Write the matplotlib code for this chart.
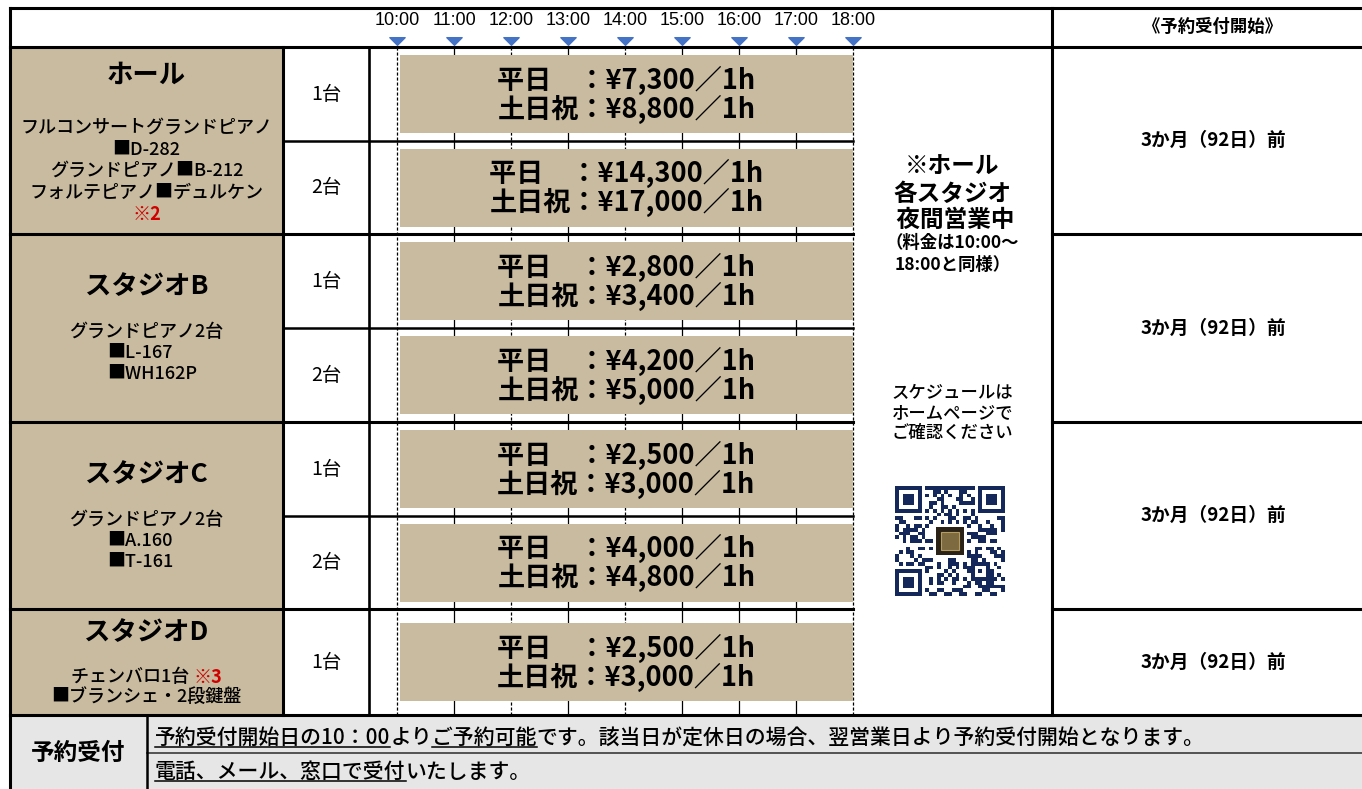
import numpy as np
import matplotlib
matplotlib.use('Agg')
import matplotlib.pyplot as plt
from matplotlib.path import Path
from matplotlib.patches import Rectangle
from matplotlib.colors import ListedColormap

# ---------------- data ----------------
hours = [10, 11, 12, 13, 14, 15, 16, 17, 18]
hour_labels = ['10:00', '11:00', '12:00', '13:00', '14:00', '15:00', '16:00', '17:00', '18:00']
open_hour = 10
close_hour = 18
dashed_hours = [10, 12, 14, 18]

room_names = ['ホール', 'スタジオB', 'スタジオC', 'スタジオD']
subrows_per_room = [2, 2, 2, 1]
piano_counts = ['1台', '2台', '1台', '2台', '1台', '2台', '1台']
weekday_price = [7300, 14300, 2800, 4200, 2500, 4000, 2500]
holiday_price = [8800, 17000, 3400, 5000, 3000, 4800, 3000]
booking_start = ['3か月（92日）前', '3か月（92日）前', '3か月（92日）前', '3か月（92日）前']

hall_details = ['フルコンサートグランドピアノ', '■D-282', 'グランドピアノ■B-212', 'フォルテピアノ■デュルケン']
hall_note = '※2'
studio_b_details = ['グランドピアノ2台', '■L-167', '■WH162P']
studio_c_details = ['グランドピアノ2台', '■A.160', '■T-161']
studio_d_line1 = 'チェンバロ1台'
studio_d_note = '※3'
studio_d_line2 = '■ブランシェ・2段鍵盤'

night_title = ['※ホール', '各スタジオ', ' 夜間営業中']
night_note = ['（料金は10:00～', '18:00と同様）']
schedule_note = ['スケジュールは', 'ホームページで', 'ご確認ください']
right_header = '《予約受付開始》'
footer_label = '予約受付'
footer_line1 = [('予約受付開始日の10：00', True), ('より', False), ('ご予約可能', True),
                ('です。該当日が定休日の場合、翌営業日より予約受付開始となります。', False)]
footer_line2 = [('電話、メール、窓口で受付', True), ('いたします。', False)]

# ---------------- style ----------------
TAN = '#C9BB9F'
GRAY = '#E6E6E6'
BLUE = '#4472C4'
RED = '#D00000'
NAVY = '#15285A'

plt.rcParams['font.family'] = ['Noto Sans CJK JP', 'DejaVu Sans']
time_font, time_size = ['Liberation Sans', 'DejaVu Sans'], 13

W, H = 1362, 789
fig = plt.figure(figsize=(W / 100, H / 100), dpi=100)
ax = fig.add_axes([0, 0, 1, 1])
ax.set_xlim(0, W)
ax.set_ylim(H, 0)
ax.axis('off')

# layout (pixel coordinates of the table grid)
X_L, X_NAME, X_CNT, X_TL_END, X_MID, X_R = 10, 283, 369, 853, 1052, W
Y_TOP, Y_HEAD, Y_BODY_END = 8, 47, 715
row_edges = [47, 141, 234, 328, 422, 516, 609, 715]
px_hour10, px_per_hour = 397, 57.0

# timeline axes: x in hours, y in pixels
axt = fig.add_axes([0, 0, 1, 1], zorder=2)
axt.set_xlim(open_hour - px_hour10 / px_per_hour, open_hour + (W - px_hour10) / px_per_hour)
axt.set_ylim(H, 0)
axt.axis('off')
axt.patch.set_alpha(0)

# backgrounds
ax.add_patch(Rectangle((X_L, Y_HEAD), X_NAME - X_L, Y_BODY_END - Y_HEAD, color=TAN, lw=0, zorder=0))
ax.add_patch(Rectangle((X_L, Y_BODY_END), W - X_L, H - Y_BODY_END, color=GRAY, lw=0, zorder=0))

LW = 2.2
def hl(y, x0, x1, lw=LW, color='black'):
    ax.plot([x0, x1], [y, y], color=color, lw=lw, solid_capstyle='projecting', zorder=3)

def vl(x, y0, y1, lw=LW, color='black'):
    ax.plot([x, x], [y0, y1], color=color, lw=lw, solid_capstyle='projecting', zorder=3)

hl(Y_TOP, X_L, W)
hl(Y_HEAD, X_L, W)
hl(Y_BODY_END, X_L, W)
room_bounds = np.cumsum([0] + subrows_per_room)
for k in room_bounds[1:-1]:
    y = row_edges[k]
    hl(y, X_L, X_TL_END)
    hl(y, X_MID, W)
for i in range(1, len(row_edges) - 1):
    if i not in room_bounds:
        hl(row_edges[i], X_NAME, X_TL_END, lw=1.8)
hl(753, 147, W, lw=1.2, color='#3a3a3a')
vl(X_L, Y_TOP, H)
vl(X_NAME, Y_HEAD, Y_BODY_END)
vl(X_CNT, Y_HEAD, Y_BODY_END, lw=1.9)
vl(X_MID, Y_TOP, Y_BODY_END)
vl(147, Y_BODY_END, H, lw=1.8)

# hour grid lines and markers
styles = [(0, (2.5, 1.5)) if h in dashed_hours else 'solid' for h in hours]
axt.vlines(hours, Y_HEAD, Y_BODY_END, colors='black', linestyles=styles, lw=0.9, zorder=1)
tri = Path([(-1, 0.5), (1, 0.5), (0, -0.5), (-1, 0.5)],
           [Path.MOVETO, Path.LINETO, Path.LINETO, Path.CLOSEPOLY])
axt.plot(hours, [41] * len(hours), ls='none', marker=tri, ms=11, color=BLUE, zorder=3)
for h, lab in zip(hours, hour_labels):
    axt.text(h, 20, lab, ha='center', va='center', fontsize=time_size, family=time_font)

# price bars
centers = [(row_edges[i] + row_edges[i + 1]) / 2 for i in range(len(row_edges) - 1)]
inset = 0.05
axt.barh(centers, close_hour - open_hour - inset, left=open_hour + inset, height=78,
         color=TAN, zorder=2)
xc = (open_hour + inset + close_hour) / 2
for yc, wd, hd in zip(centers, weekday_price, holiday_price):
    axt.text(xc, yc - 14, f'平日　：¥{wd:,}／1h', ha='center', va='center', fontsize=19.5,
             fontweight='bold', zorder=4)
    axt.text(xc, yc + 15, f'土日祝：¥{hd:,}／1h', ha='center', va='center', fontsize=19.5,
             fontweight='bold', zorder=4)

# piano counts
for yc, pc in zip(centers, piano_counts):
    ax.text((X_NAME + X_CNT) / 2, yc, pc, ha='center', va='center', fontsize=14, zorder=4)

fig.canvas.draw()
renderer = fig.canvas.get_renderer()


def segments(segs, x, y, ha='left', va='center', fontsize=13, ul_off=3, **common):
    widths = []
    for s, kw in segs:
        kw = {k: v for k, v in kw.items() if k != 'underline'}
        t = ax.text(0, 0, s, fontsize=fontsize, **common, **kw)
        widths.append(t.get_window_extent(renderer).width)
        t.remove()
    x0 = x - sum(widths) / 2 if ha == 'center' else x
    for (s, kw), w in zip(segs, widths):
        kw = dict(kw)
        ul = kw.pop('underline', False)
        ax.text(x0, y, s, ha='left', va=va, fontsize=fontsize, zorder=5, **common, **kw)
        if ul:
            ax.plot([x0, x0 + w], [y + ul_off, y + ul_off], color='black', lw=1.1, zorder=5)
        x0 += w


# room names and details
name_cx = (X_L + X_NAME) / 2
title_y = [75, 287, 475, 633]
for name, ty in zip(room_names, title_y):
    ax.text(name_cx, ty, name, ha='center', va='center', fontsize=19, fontweight='bold', zorder=4)
DET = 13
for i, line in enumerate(hall_details):
    ax.text(name_cx, 128 + 21.5 * i, line, ha='center', va='center', fontsize=DET,
            fontweight='medium', zorder=4)
ax.text(name_cx, 214, hall_note, ha='center', va='center', fontsize=DET, color=RED,
        fontweight='bold', zorder=4)
for details, y0 in [(studio_b_details, 332), (studio_c_details, 520)]:
    ax.text(name_cx, y0, details[0], ha='center', va='center', fontsize=DET, fontweight='medium', zorder=4)
    for j, line in enumerate(details[1:]):
        ax.text(107, y0 + 21 * (j + 1), line, ha='left', va='center', fontsize=DET,
                fontweight='medium', zorder=4)
segments([(studio_d_line1 + ' ', {'fontweight': 'medium'}),
          (studio_d_note, {'color': RED, 'fontweight': 'bold'})],
         name_cx, 677, ha='center', fontsize=DET)
ax.text(name_cx, 697, studio_d_line2, ha='center', va='center', fontsize=DET, fontweight='medium', zorder=4)

# middle column
mid_cx = (X_TL_END + X_MID) / 2
for i, line in enumerate(night_title):
    ax.text(mid_cx, 167 + 26.5 * i, line, ha='center', va='center', fontsize=17, fontweight='bold', zorder=4)
for i, line in enumerate(night_note):
    ax.text(mid_cx, 243 + 21.5 * i, line, ha='center', va='center', fontsize=12.5, fontweight='bold', zorder=4)
for i, line in enumerate(schedule_note):
    ax.text(mid_cx, 393 + 20 * i, line, ha='center', va='center', fontsize=12.5, fontweight='medium', zorder=4)

# QR-like code (deterministic pattern)
n = 29
qr = np.zeros((n, n), dtype=int)
for i in range(n):
    for j in range(n):
        v = (i * 131 + j * 197 + i * j * 37 + (i ^ j) * 11) % 13
        qr[i, j] = 1 if v in (0, 2, 3, 5, 7, 8) else 0
for r, c in [(0, 0), (0, n - 7), (n - 7, 0)]:
    qr[max(r - 1, 0):r + 8, max(c - 1, 0):c + 8] = 0
    qr[r:r + 7, c:c + 7] = 1
    qr[r + 1:r + 6, c + 1:c + 6] = 0
    qr[r + 2:r + 5, c + 2:c + 5] = 1
for k in range(8, n - 8):
    qr[6, k] = qr[k, 6] = 1 - k % 2
qr[20:25, 20:25] = 1
qr[21:24, 21:24] = 0
qr[22, 22] = 1
qr[10:19, 10:19] = 0
ax.imshow(qr, cmap=ListedColormap(['white', NAVY]), extent=(895, 1005, 596, 486),
          interpolation='nearest', aspect='auto', zorder=4)
ax.add_patch(Rectangle((936, 527), 28, 28, color='#2a2216', lw=0, zorder=5))
ax.add_patch(Rectangle((941, 532), 18, 18, facecolor='#7d6a40', edgecolor='#b59d62', lw=0.8, zorder=5))

# right column
r_cx = 1213
ax.text(r_cx, 27, right_header, ha='center', va='center', fontsize=12.5, fontweight='bold', zorder=4)
for k, txt in enumerate(booking_start):
    y0, y1 = row_edges[room_bounds[k]], row_edges[room_bounds[k + 1]]
    ax.text(r_cx, (y0 + y1) / 2, txt, ha='center', va='center', fontsize=13.5, fontweight='bold', zorder=4)

# footer
ax.text(78, 753, footer_label, ha='center', va='center', fontsize=17, fontweight='bold', zorder=4)
segments([(s, {'underline': u, 'fontweight': 'medium'}) for s, u in footer_line1],
         155, 744, ha='left', va='baseline', fontsize=15, ul_off=3)
segments([(s, {'underline': u, 'fontweight': 'medium'}) for s, u in footer_line2],
         155, 778, ha='left', va='baseline', fontsize=15, ul_off=3)

fig.savefig('out.png', dpi=100)
